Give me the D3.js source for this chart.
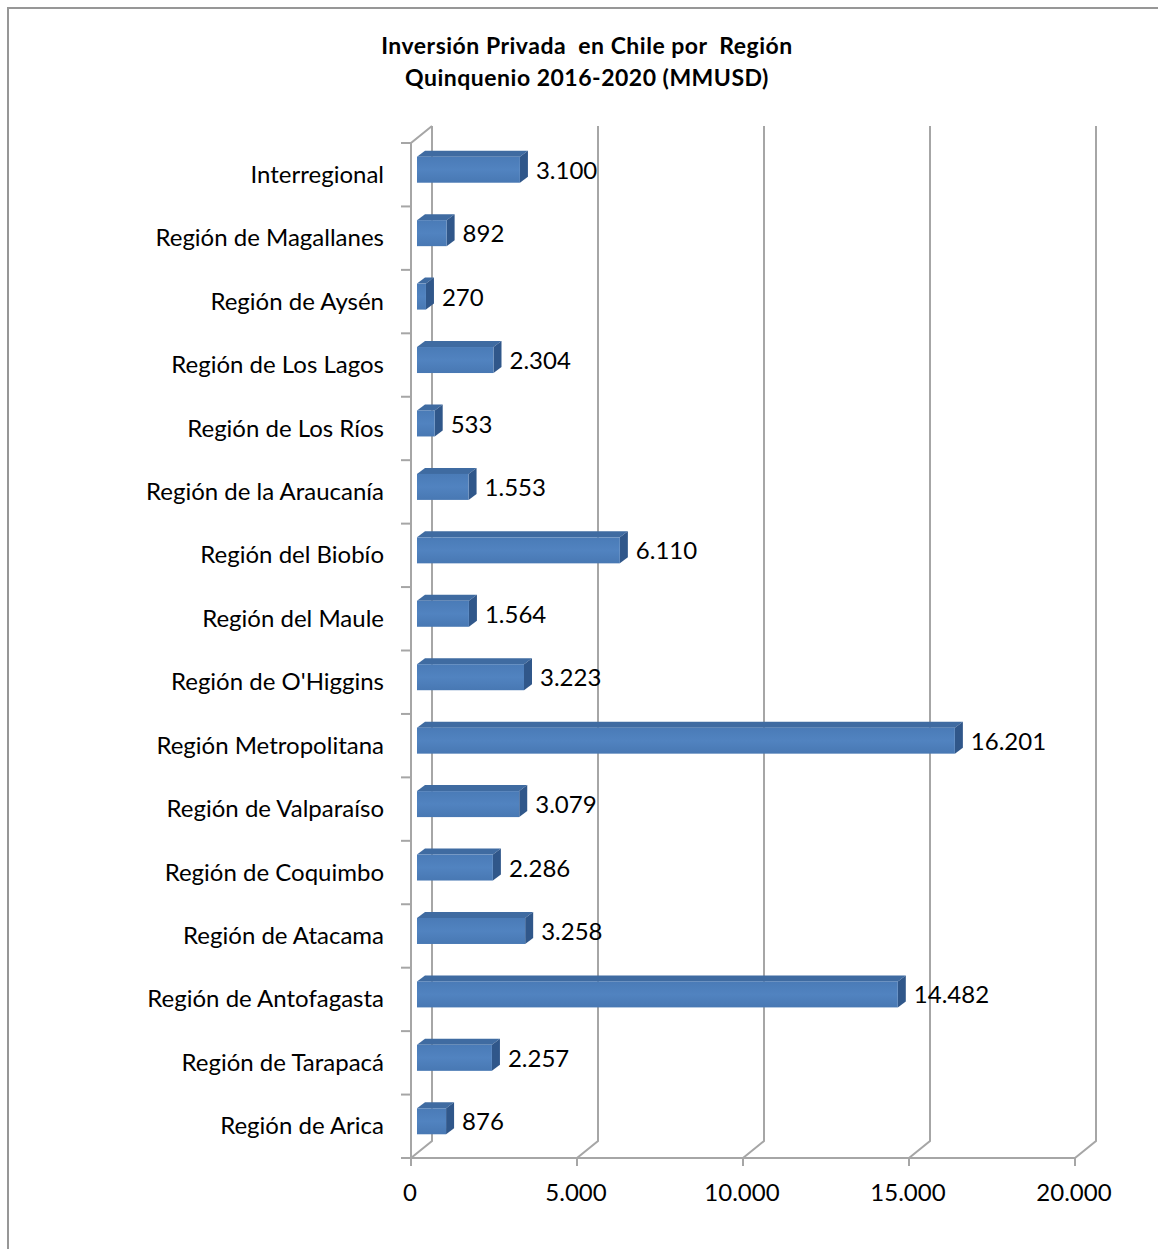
<!DOCTYPE html>
<html>
<head>
<meta charset="utf-8">
<script src="https://cdn.jsdelivr.net/npm/d3@7"></script>
<style>
    body { margin: 0; background: #fff; }
    text { font-family: Lato, "Open Sans", sans-serif; fill: #000; }
</style>
</head>
<body>
<div id="chart"></div>
<script>
// data (top to bottom)
const regions = [
    "Interregional", "Región de Magallanes", "Región de Aysén", "Región de Los Lagos",
    "Región de Los Ríos", "Región de la Araucanía", "Región del Biobío", "Región del Maule",
    "Región de O'Higgins", "Región Metropolitana", "Región de Valparaíso", "Región de Coquimbo",
    "Región de Atacama", "Región de Antofagasta", "Región de Tarapacá", "Región de Arica"
];
const inversion = [3100, 892, 270, 2304, 533, 1553, 6110, 1564, 3223, 16201, 3079, 2286, 3258, 14482, 2257, 876];
const xTicks = [0, 5000, 10000, 15000, 20000];
const titleLines = ["Inversión Privada  en Chile por  Región", "Quinquenio 2016-2020 (MMUSD)"];

const width = 1158, height = 1249;
const plot = { left: 411, right: 1075, top: 143, bottom: 1158 };
const depth = { dx: 21, dy: -17 };      // back wall offset
const barDepth = { dx: 8, dy: -6 };     // thickness of each bar
const barShift = { dx: 6, dy: -5 };     // bars sit a bit behind the front plane
const barH = 26;
const fontSize = "24px";

const es = d3.formatLocale({ decimal: ",", thousands: ".", grouping: [3], currency: ["$", ""] });
const fmt = es.format(",d");

const svg = d3.select("#chart").append("svg")
    .attr("width", width)
    .attr("height", height);

// chart border
svg.append("rect")
    .attr("x", 8).attr("y", 8)
    .attr("width", width + 10).attr("height", height + 10)
    .attr("fill", "none")
    .attr("stroke", "#979797")
    .attr("stroke-width", 2);

// title
svg.append("text")
    .attr("x", 587)
    .attr("text-anchor", "middle")
    .style("font-weight", "bold")
    .style("font-size", "23px")
    .style("letter-spacing", "0.5px")
    .style("white-space", "pre")
    .selectAll("tspan")
    .data(titleLines)
    .join("tspan")
    .attr("x", 587)
    .attr("y", (d, i) => 54 + i * 32)
    .text(d => d);

const x = d3.scaleLinear()
    .domain([0, 20000])
    .range([plot.left, plot.right]);

const y = d3.scaleBand()
    .domain(regions)
    .range([plot.top, plot.bottom]);

const gridColor = "#a6a6a6";
const grid = svg.append("g")
    .attr("fill", "none")
    .attr("stroke", gridColor)
    .attr("stroke-width", 2);

// back wall gridlines with floor diagonals
grid.selectAll(".grid")
    .data(xTicks)
    .join("path")
    .attr("class", "grid")
    .attr("d", d => `M${x(d)},${plot.bottom} L${x(d) + depth.dx},${plot.bottom + depth.dy} L${x(d) + depth.dx},${plot.top + depth.dy}`);

// left wall front edge
grid.append("path")
    .attr("d", `M${x(0) + depth.dx},${plot.top + depth.dy} L${x(0)},${plot.top} L${x(0)},${plot.bottom} L${plot.right},${plot.bottom}`);

// category ticks
grid.selectAll(".ytick")
    .data(regions.concat(["_end"]))
    .join("line")
    .attr("class", "ytick")
    .attr("x1", x(0) - 10).attr("x2", x(0))
    .attr("y1", (d, i) => plot.top + i * y.step())
    .attr("y2", (d, i) => plot.top + i * y.step());

// value ticks
grid.selectAll(".xtick")
    .data(xTicks)
    .join("line")
    .attr("class", "xtick")
    .attr("x1", d => x(d)).attr("x2", d => x(d))
    .attr("y1", plot.bottom).attr("y2", plot.bottom + 8);

svg.selectAll(".xlabel")
    .data(xTicks)
    .join("text")
    .attr("class", "xlabel")
    .attr("x", d => x(d) - 1)
    .attr("y", plot.bottom + 37)
    .attr("dominant-baseline", "middle")
    .attr("text-anchor", "middle")
    .style("font-size", fontSize)
    .text(d => fmt(d));

svg.selectAll(".ylabel")
    .data(regions)
    .join("text")
    .attr("class", "ylabel")
    .attr("x", 384)
    .attr("y", d => y(d) + y.bandwidth() / 2 + 2)
    .attr("dominant-baseline", "middle")
    .attr("text-anchor", "end")
    .style("font-size", fontSize)
    .text(d => d);

// gradient for the front faces
const grad = svg.append("defs").append("linearGradient")
    .attr("id", "barFront")
    .attr("x1", 0).attr("y1", 0).attr("x2", 0).attr("y2", 1);
grad.append("stop").attr("offset", "0%").attr("stop-color", "#4a7bb7");
grad.append("stop").attr("offset", "50%").attr("stop-color", "#5183c0");
grad.append("stop").attr("offset", "100%").attr("stop-color", "#4878b3");

const rows = regions.map((r, i) => ({ region: r, value: inversion[i] }));

const bars = svg.selectAll(".bar")
    .data(rows)
    .join("g")
    .attr("class", "bar");

const x0 = d => x(0) + barShift.dx;
const x1 = d => x(d.value) + barShift.dx;
const yTop = d => y(d.region) + y.bandwidth() / 2 + barShift.dy - barH / 2;

// top face
bars.append("path")
    .attr("fill", "#3f6ba1")
    .attr("d", d => `M${x0(d)},${yTop(d)} L${x0(d) + barDepth.dx},${yTop(d) + barDepth.dy} L${x1(d) + barDepth.dx},${yTop(d) + barDepth.dy} L${x1(d)},${yTop(d)} Z`);

// right side face
bars.append("path")
    .attr("fill", "#30578a")
    .attr("d", d => `M${x1(d)},${yTop(d)} L${x1(d) + barDepth.dx},${yTop(d) + barDepth.dy} L${x1(d) + barDepth.dx},${yTop(d) + barDepth.dy + barH} L${x1(d)},${yTop(d) + barH} Z`);

// front face
bars.append("rect")
    .attr("x", x0)
    .attr("y", yTop)
    .attr("width", d => x1(d) - x0(d))
    .attr("height", barH)
    .attr("fill", "url(#barFront)");

bars.append("text")
    .attr("x", d => x(d.value) + 22)
    .attr("y", d => yTop(d) + barH / 2 + 3)
    .attr("dominant-baseline", "middle")
    .style("font-size", fontSize)
    .text(d => fmt(d.value));
</script>
</body>
</html>
